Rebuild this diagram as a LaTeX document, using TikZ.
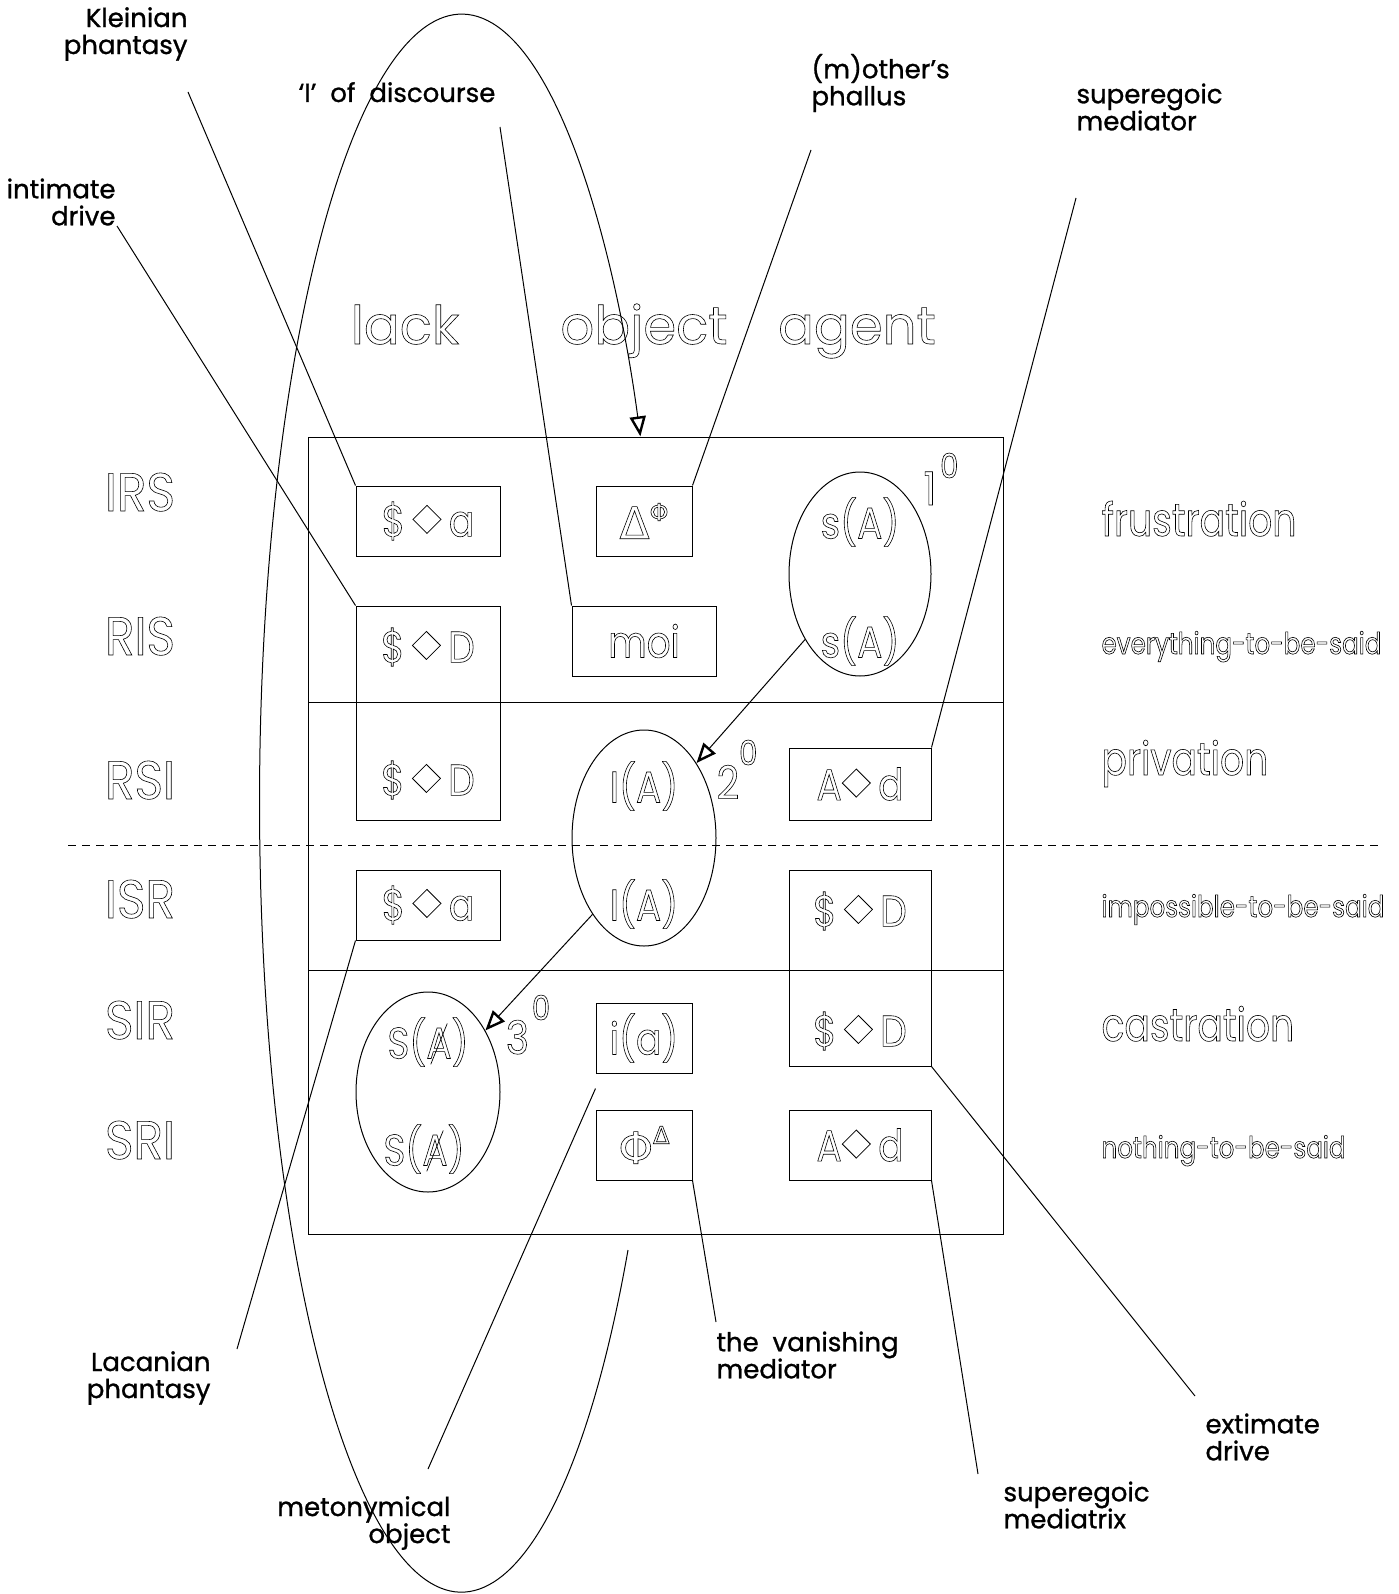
\documentclass[tikz,border=0pt]{standalone}
\usepackage{fontspec}
\setmainfont{Poppins}
\newfontfamily\notefont[FakeBold=1]{Poppins}
\newfontfamily\headfont{Poppins}
\newfontfamily\rowfont[FakeStretch=0.9]{Poppins}
\newfontfamily\cellfont[FakeStretch=0.85]{Poppins}
\newfontfamily\sidefont[FakeStretch=0.82]{Poppins}
\newfontfamily\symfont{DejaVu Sans}
\usetikzlibrary{arrows.meta,shapes.geometric}

% outlined glyphs: stroke only, no fill
\newcommand\outline{\special{pdf:literal direct 1 Tr 0.3 w}}
\newcommand\filled{\special{pdf:literal direct 0 Tr}}
\newcommand\dmd{\raisebox{1.5pt}{\rotatebox{45}{\setlength\fboxsep{0pt}\setlength\fboxrule{0.4pt}\fbox{\rule{0pt}{9.5pt}\hspace{9.5pt}}}}}
\newcommand\barA{\ooalign{A\cr\hidewidth\raisebox{-3pt}{\rotatebox{68}{\rule{22pt}{0.35pt}}}\hidewidth}}
\newcommand\gk[1]{{\symfont #1}}
\newcommand\degr[3]{#1\hspace{#3}\raisebox{#2}{\fontsize{17}{17}\selectfont 0}}

\tikzset{
  head/.style={font={\headfont\fontsize{#1}{#1}\selectfont\outline}, inner sep=0pt, execute at end node=\filled},
  rowhead/.style={font={\rowfont\fontsize{#1}{#1}\selectfont\outline}, inner sep=0pt, execute at end node=\filled},
  hollow/.style={font={\cellfont\fontsize{#1}{#1}\selectfont\outline}, inner sep=0pt, execute at end node=\filled},
  side/.style={font={\sidefont\fontsize{#1}{#1}\selectfont\outline}, inner sep=0pt, execute at end node=\filled},
  note/.style={font=\notefont\fontsize{13}{13.5}\selectfont, inner sep=0pt},
  cell/.style={draw, line width=0.5pt, inner sep=0pt, minimum height=35pt},
  oval/.style={draw, ellipse, line width=0.5pt, inner sep=0pt},
  pointer/.style={line width=0.5pt, -{Triangle[open,length=10pt,width=8pt,line width=1.2pt]}},
}

\begin{document}
\begin{tikzpicture}[x=0.5pt,y=0.5pt,yscale=-1,line width=0.5pt]
\useasboundingbox (0,0) rectangle (1398,1594);

%Table
\draw (308,437) rectangle (1003,1234);
\draw (308,702) -- (1003,702);
\draw (308,970) -- (1003,970);
\draw[dash pattern=on 4pt off 3pt] (68,845) -- (1383,845);

% Column heads
\node[head=26.5, anchor=base] (lack) at (405,344) {lack};
\node[head=26.5, anchor=base] (object) at (644,344) {object};
\node[head=26.5, anchor=base] (agent) at (857,344) {agent};

% Row heads
\node[rowhead=27, anchor=base] (irs) at (140,511) {IRS};
\node[rowhead=27, anchor=base] (ris) at (140,655) {RIS};
\node[rowhead=27, anchor=base] (rsi) at (140,799) {RSI};
\node[rowhead=27, anchor=base] (isr) at (140,918) {ISR};
\node[rowhead=27, anchor=base] (sir) at (140,1039) {SIR};
\node[rowhead=27, anchor=base] (sri) at (140,1159) {SRI};

% Right column
\node[side=23, anchor=base west] (frus) at (1101,536) {frustration};
\node[side=15, anchor=base west] (every) at (1101,654) {everything-to-be-said};
\node[side=23, anchor=base west] (priv) at (1101,775) {privation};
\node[side=15, anchor=base west] (imposs) at (1101,917) {impossible-to-be-said};
\node[side=23, anchor=base west] (castr) at (1101,1041) {castration};
\node[side=15, anchor=base west] (nothing) at (1101,1158) {nothing-to-be-said};

% Cells
\node[cell, hollow=22, minimum width=72pt] (sa1) at (428,521) {\$\,\dmd\,a};
\node[cell, hollow=22, minimum width=48pt] (deltaphi) at (644,521) {\gk{Δ}\raisebox{9pt}{\fontsize{12}{12}\selectfont\gk{Φ}}};
\node[cell, hollow=22, minimum width=72pt] (moi) at (644,641) {moi};
\node[cell, minimum width=72pt, minimum height=107pt] (sD1) at (428,713) {};
\node[hollow=22] (sD1a) at (428,647) {\$\,\dmd\,D};
\node[hollow=22] (sD1b) at (428,780) {\$\,\dmd\,D};
\node[oval, minimum width=71pt, minimum height=102pt] (sAell) at (860,574) {};
\node[hollow=22] (sAa) at (860,522) {s(A)};
\node[hollow=22] (sAb) at (860,641) {s(A)};
\node[hollow=23, anchor=base] (deg1) at (941,505) {\degr{1}{13.5pt}{2pt}};

\node[oval, minimum width=72pt, minimum height=108pt] (IAell) at (644,838) {};
\node[hollow=22] (IAa) at (644,786) {I(A)};
\node[hollow=22] (IAb) at (644,904) {I(A)};
\node[hollow=23, anchor=base] (deg2) at (737,799) {\degr{2}{17pt}{0pt}};
\node[cell, hollow=22, minimum width=71pt, minimum height=36pt] (Ad1) at (860,784) {A\dmd\,d};

\node[cell, hollow=22, minimum width=72pt] (sa2) at (428,905) {\$\,\dmd\,a};
\node[cell, minimum width=71pt, minimum height=98pt] (sD2) at (860,968) {};
\node[hollow=22] (sD2a) at (860,911) {\$\,\dmd\,D};
\node[hollow=22] (sD2b) at (860,1031) {\$\,\dmd\,D};

\node[oval, minimum width=72pt, minimum height=100pt] (SAell) at (428,1092) {};
\node[hollow=22] (SAa) at (428,1042) {S(\barA)};
\node[hollow=22] (SAb) at (424,1149) {S(\barA)};
\node[hollow=23, anchor=base] (deg3) at (528,1054) {\degr{3}{17pt}{1.5pt}};
\node[cell, hollow=22, minimum width=48pt] (ia) at (644,1038) {i(a)};
\node[cell, hollow=22, minimum width=48pt] (phidelta) at (644,1145) {\gk{Φ}\raisebox{10pt}{\fontsize{12}{12}\selectfont\gk{Δ}}};
\node[cell, hollow=22, minimum width=71pt] (Ad2) at (860,1145) {A\dmd\,d};

% Arrows
\draw[pointer] (sAell.230) -- (IAell.55);
\draw[pointer] (IAell.236) -- (SAell.47);
\draw[pointer] (628,1250) arc[start angle=34.5, end angle=332.3, x radius=202, y radius=789];

% Text Node
\node[note, align=right, anchor=east] (klein) at (188,34) {Kleinian\\phantasy};
\node[note, anchor=base] (ofdisc) at (397,102) {‘I’\ \ of\ \ discourse};
\node[note, align=left, anchor=west] (mphal) at (811,83) {(m)other’s\\phallus};
\node[note, align=left, anchor=west] (smed) at (1076,107) {superegoic\\mediator};
\node[note, align=right, anchor=east] (intim) at (116,202) {intimate\\drive};
\node[note, align=right, anchor=east] (lacan) at (211,1378) {Lacanian\\phantasy};
\node[note, align=right, anchor=east] (meton) at (451,1523) {metonymical\\object};
\node[note, align=left, anchor=west] (vanish) at (716,1355) {the\ \ vanishing\\mediator};
\node[note, align=left, anchor=west] (smtrx) at (1003,1505) {superegoic\\mediatrix};
\node[note, align=left, anchor=west] (extim) at (1205,1437) {extimate\\drive};

%Straight Lines
\coordinate (kleinE) at (188,92);
\coordinate (intimE) at (117,226);
\coordinate (ofdiscE) at (500,127);
\coordinate (mphalE) at (811,150);
\coordinate (smedE) at (1076,198);
\coordinate (lacanE) at (237,1349);
\coordinate (metonE) at (428,1469);
\coordinate (vanishE) at (716,1322);
\coordinate (smtrxE) at (978,1474);
\coordinate (extimE) at (1195,1396);
\draw (kleinE) -- (sa1.north west);
\draw (intimE) -- (sD1.north west);
\draw (ofdiscE) -- (moi.north west);
\draw (mphalE) -- (deltaphi.north east);
\draw (smedE) -- (Ad1.north east);
\draw (lacanE) -- (sa2.south west);
\draw (metonE) -- ([yshift=7.5pt]ia.south west);
\draw (vanishE) -- (phidelta.south east);
\draw (smtrxE) -- (Ad2.south east);
\draw (extimE) -- (sD2.south east);

\end{tikzpicture}
\end{document}
